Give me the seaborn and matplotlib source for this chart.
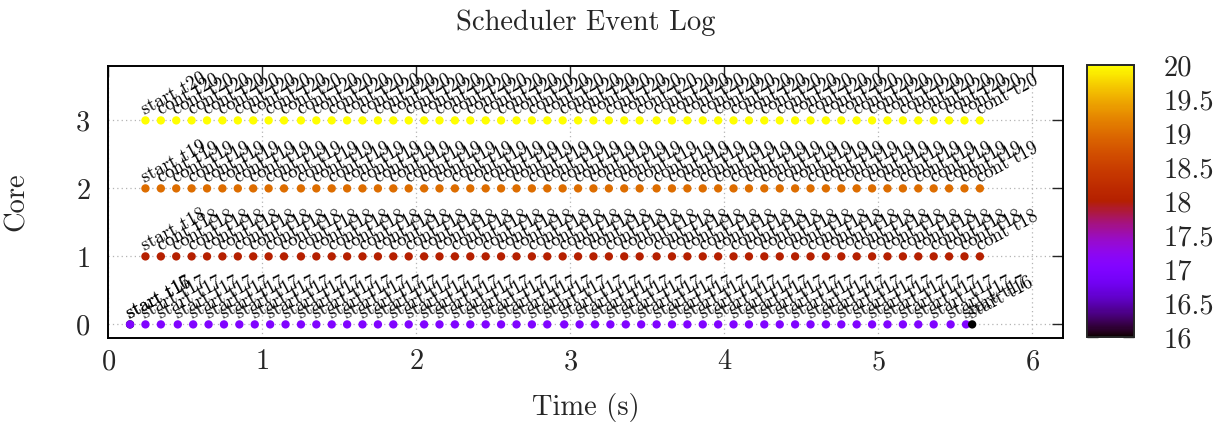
import numpy as np
import pandas as pd
import matplotlib
matplotlib.use("Agg")
import matplotlib.pyplot as plt
import seaborn as sns
from matplotlib.colors import ListedColormap, Normalize
from matplotlib.cm import ScalarMappable
from matplotlib.ticker import FuncFormatter

# ---- event log ------------------------------------------------------------
# cores 1-3 share the same time slices
slice_times = [0.24, 0.34, 0.44, 0.54, 0.64, 0.74, 0.84, 0.94, 1.04, 1.14,
               1.25, 1.35, 1.45, 1.55, 1.65, 1.75, 1.85, 1.95, 2.05, 2.15,
               2.25, 2.35, 2.45, 2.55, 2.65, 2.75, 2.85, 2.95, 3.05, 3.15,
               3.25, 3.35, 3.45, 3.56, 3.66, 3.76, 3.86, 3.96, 4.06, 4.16,
               4.26, 4.36, 4.46, 4.56, 4.66, 4.76, 4.86, 4.96, 5.06, 5.16,
               5.26, 5.36, 5.46, 5.56, 5.66]
# core 0 runs one slice earlier
core0_times = [0.14, 0.24, 0.34, 0.45, 0.55, 0.65, 0.75, 0.85, 0.95, 1.05,
               1.15, 1.25, 1.35, 1.45, 1.55, 1.65, 1.75, 1.85, 1.95, 2.05,
               2.15, 2.25, 2.35, 2.45, 2.55, 2.65, 2.75, 2.85, 2.96, 3.06,
               3.16, 3.26, 3.36, 3.46, 3.56, 3.66, 3.76, 3.86, 3.96, 4.06,
               4.16, 4.26, 4.36, 4.46, 4.56, 4.66, 4.76, 4.86, 4.96, 5.06,
               5.16, 5.26, 5.36, 5.47, 5.57]
t16_times = [0.14, 5.61]          # task 16 start events on core 0

cores = [0, 1, 2, 3]
core_tasks = [17, 18, 19, 20]     # task running on each core
task16 = 16

rows = []
# core 0: first start of t16, then t17 starts, then t16 again
rows.append((t16_times[0], 0, task16, "start t16"))
for t in core0_times:
    rows.append((t, 0, core_tasks[0], "start t17"))
rows.append((t16_times[1], 0, task16, "start t16"))
for core, task in zip(cores[1:], core_tasks[1:]):
    for i, t in enumerate(slice_times):
        kind = "start" if i == 0 else "cont"
        rows.append((t, core, task, f"{kind} t{task}"))
events = pd.DataFrame(rows, columns=["time", "core", "task", "label"])

# ---- style ----------------------------------------------------------------
sns.set_style("white")
plt.rcParams["font.family"] = ["cmr10", "DejaVu Serif"]
plt.rcParams["axes.formatter.use_mathtext"] = True
plt.rcParams["mathtext.fontset"] = "cm"

FS = 20.5      # main text size
LFS = 13.5     # event label size

# gnuplot's classic rgbformulae 7,5,15 palette
xs = np.linspace(0, 1, 256)
palette_rgb = np.column_stack([np.sqrt(xs), xs ** 3,
                               np.clip(np.sin(2 * np.pi * xs), 0, 1)])
cmap = ListedColormap(palette_rgb)
norm = Normalize(16, 20)

W, H = 1225, 428
fig = plt.figure(figsize=(W / 100, H / 100), dpi=100)
ax = fig.add_axes([108.5 / W, 1 - 338 / H, (1063 - 108.5) / W, (338 - 66) / H])

sns.scatterplot(data=events, x="time", y="core", hue="task", palette=cmap,
                hue_norm=norm, s=36, linewidth=0, legend=False, ax=ax,
                zorder=3)

for _, r in events.iterrows():
    ax.annotate(r["label"], (r["time"], r["core"]), xytext=(0, 4.0),
                textcoords="offset points", rotation=28,
                rotation_mode="anchor", ha="left", va="baseline",
                fontsize=LFS, color="black", zorder=4)

ax.set_xlim(0, 6.2)
ax.set_ylim(-0.2, 3.8)
ax.set_xticks(range(0, 7))
ax.set_yticks(range(0, 4))
ax.grid(True, color="#b4b4b4", linestyle=(0, (1, 2.5)), linewidth=0.9)
ax.tick_params(direction="in", length=8, width=1.0, labelsize=FS,
               top=True, right=True)
ax.tick_params(axis="x", pad=8)
ax.tick_params(axis="y", pad=13)
for sp in ax.spines.values():
    sp.set_linewidth(1.4)
    sp.set_color("black")

ax.set_xlabel("Time (s)", fontsize=FS)
ax.xaxis.label.set_va("center")
ax.xaxis.set_label_coords(0.5, (338 - 407) / 272)
ax.set_ylabel("Core", fontsize=FS)
ax.yaxis.label.set_va("center")
ax.yaxis.set_label_coords((17 - 108.5) / 954.5, 0.5)
ax.set_title("Scheduler Event Log", fontsize=FS, pad=26)

# colour box
cax = fig.add_axes([1087 / W, 1 - 337 / H, 47 / W, (337 - 65) / H])
cb = fig.colorbar(ScalarMappable(norm=norm, cmap=cmap), cax=cax)
cb.set_ticks(np.arange(16, 20.01, 0.5))
cb.ax.yaxis.set_major_formatter(FuncFormatter(lambda v, p: f"{v:g}"))
cb.ax.tick_params(direction="in", length=8, width=1.0, labelsize=FS,
                  left=True, right=True, pad=21)
cb.outline.set_linewidth(1.4)

fig.savefig("out.png", dpi=100)
